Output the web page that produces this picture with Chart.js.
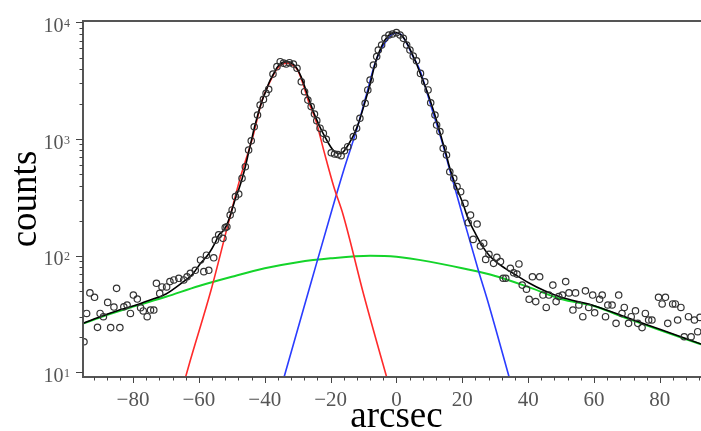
<!DOCTYPE html>
<html>
<head>
<meta charset="utf-8">
<script src="https://cdn.jsdelivr.net/npm/chart.js@4.4.1/dist/chart.umd.min.js"></script>
<style>
  html, body { margin: 0; padding: 0; background: #fff; }
  canvas { display: block; }
</style>
</head>
<body>
<canvas id="chart" width="701" height="431"></canvas>
<script>
// measured profile (arcsec / counts)
const dataX = [-94.9,-94.1,-93.1,-91.7,-90.8,-90.0,-89.0,-87.7,-86.8,-85.8,-85.0,-84.0,-82.8,-81.8,-80.8,-79.9,-78.7,-77.7,-76.9,-75.7,
  -74.7,-73.7,-72.9,-71.9,-71.2,-69.8,-68.8,-67.6,-66.1,-64.6,-63.6,-62.6,-61.1,-59.5,-58.5,-57.7,-57.0,-55.5,-55.0,-54.0,
  -52.7,-52.0,-51.5,-50.5,-49.9,-48.9,-47.9,-46.9,-45.9,-44.9,-44.1,-43.2,-42.2,-41.4,-40.4,-39.6,-38.8,-37.5,-36.3,-35.3,
  -34.3,-33.5,-32.5,-31.3,-30.2,-28.9,-27.9,-26.9,-25.9,-24.9,-24.2,-23.2,-22.2,-21.3,-19.8,-18.8,-17.8,-16.8,-15.8,-14.8,
  -13.1,-12.1,-11.1,-9.5,-8.7,-8.0,-7.0,-6.0,-5.5,-4.5,-3.5,-2.3,-1.2,0.0,1.1,2.1,3.1,4.1,5.1,6.1,
  7.3,8.6,9.6,10.4,11.7,12.2,13.2,14.2,15.2,16.2,17.4,18.4,19.5,20.8,21.8,22.5,23.3,24.5,25.5,26.5,
  27.1,28.1,29.5,30.5,31.6,32.4,33.2,34.6,35.6,36.6,37.2,38.2,39.5,40.3,41.3,42.3,43.5,44.5,45.5,46.3,
  47.5,48.5,49.3,50.4,51.4,52.4,53.6,54.4,55.4,56.6,57.4,58.4,59.6,60.2,61.7,62.5,63.5,64.2,65.5,66.7,
  67.5,68.5,69.2,70.5,71.3,72.6,73.3,74.6,75.6,76.6,77.6,79.6,80.7,81.7,82.4,83.9,84.7,85.4,86.4,87.4,
  88.7,89.5,90.5,91.5,92.2];
const dataCounts = [18.3,32,48,44,24.3,32,30,39.8,24.2,36.3,52.5,24.2,36.5,37.8,32,46,42.5,35.8,33.6,30,
  34.2,34.2,58,47.5,54,54,60,62,64,62,66,70.6,75,92,73,101,75,96,136,151,
  141,174,177,223,247,321,338,461,580,806,968,1276,1610,1960,2190,2470,2670,3610,4180,4610,
  4480,4400,4520,4400,4050,3100,2550,2160,1900,1640,1440,1240,1120,996,764,745,737,720,795,861,
  1050,1240,1510,2030,2640,3210,4320,5100,5810,6410,7310,7810,7970,8180,7810,7310,6410,5810,5160,4700,
  3660,3100,2640,2050,1610,1320,1160,834,731,525,461,391,354,281,192,223,138,187,121,128,
  93,103,86,97,89,64,64,78,71.4,69.6,85,56,51.6,42.3,66,40.4,66,46,36,46,
  56,40.4,44.6,46,60,48,34.2,48,37.8,30,50,36,46,32.4,42.3,46,30,37.8,37.8,26.3,
  46,32,36,26.3,30,33.7,26.3,24.2,32,28.1,28.1,44,38.6,44,26.3,38.6,38.6,28.1,36,20.2,
  30,20.2,28.1,22.3,29.6];

// total fit (black)
const fitX = [-96,-90,-85,-80,-75,-70,-65,-62,-59.5,-57,-55,-54,-52.5,-51.5,-50.5,-49.9,-48.9,-47.9,-46.9,-45.9,
  -44.9,-44.1,-43.2,-42.2,-41.4,-40.4,-39.6,-38.8,-37.5,-36.3,-35.3,-34,-33,-32,-31,-30,-29,-28,-27,-26,
  -25,-24,-23,-22,-21,-20,-19,-18,-17,-16,-15,-14,-13,-12,-11,-10,-9,-8,-7,-6,
  -5,-4,-3,-2,-1,0,1,2,3,4,5,6,7,8,9,10,11,12,13,14,
  15,16,17,18,19,20,22,24,26,28,30,33,36,40,45,50,55,60,70,80,93];
const fitCounts = [25.8,30,33.6,37,41.5,47,59,69,86,104,130,150,165,185,220,250,310,370,455,580,
  770,960,1240,1580,1900,2300,2600,3000,3550,4100,4420,4580,4600,4520,4300,3950,3450,2900,2380,1980,
  1660,1420,1230,1080,960,860,790,755,750,785,860,960,1080,1260,1520,1880,2350,2950,3900,4900,
  5800,6700,7400,7900,8150,8200,8000,7500,6800,6000,5200,4500,3800,3200,2700,2250,1850,1500,1200,950,
  760,590,480,400,340,290,200,155,122,102,90,78,69,59,50,44,40.5,37.3,29.5,23.4,17.3];

// left component (red)
const redX = [-65,-62.6,-56.3,-51.5,-47.4,-43.9,-40.9,-38.3,-36.3,-34.6,-33,-31.5,-30,-28.5,-26.7,-24.5,-22,-19,-16.2,-10,-3,-2];
const redCounts = [7.3,12.7,50.8,170,470,980,2100,3150,4000,4400,4480,4300,3900,3050,2100,1450,785,389,225,47,9.16,7.3];

// right component (blue)
const blueX = [-35,-34.1,-26,-19.6,-15.6,-12.1,-9,-6.5,-4.5,-3,-1.5,0,1.5,3.1,5,7.1,10.7,13.7,16.2,20.2,25,27.5,34.2,35];
const blueCounts = [7.4,9.16,58,247,590,1200,2470,4470,6000,7000,7850,8130,7850,6640,5130,3920,1840,982,543,216,73,43,9.16,7.6];

// broad component (green)
const greenX = [-96,-95,-88,-80,-70,-60,-50,-40,-30,-20,-8,0,10,20,30,40,50,60,70,80,92,93];
const greenCounts = [25.8,26.3,31,36.6,44.5,55,66,78,88,95,100,98,89,78,67,54,42.5,37,29,23,17.6,17.2];

const xTicks = [-80, -60, -40, -20, 0, 20, 40, 60, 80];
const yDecades = [1, 2, 3, 4];

function toPoints(xs, ys) {
  return xs.map((x, i) => ({ x: x, y: ys[i] }));
}

function lineSet(label, xs, ys, color, width, order) {
  return {
    label: label,
    data: toPoints(xs, ys),
    showLine: true,
    borderColor: color,
    borderWidth: width,
    pointRadius: 0,
    cubicInterpolationMode: 'monotone',
    order: order
  };
}

const serif = '"Liberation Serif", "DejaVu Serif", serif';

// frame, tick marks, power-of-ten labels and the x title
const axisFrame = {
  id: 'axisFrame',
  afterDraw(chart) {
    const { ctx, chartArea: a, scales: { x, y } } = chart;
    ctx.save();
    ctx.strokeStyle = '#555';
    ctx.lineWidth = 2;
    ctx.beginPath();
    ctx.moveTo(a.right + 2, a.top);
    ctx.lineTo(a.left, a.top);
    ctx.lineTo(a.left, a.bottom);
    ctx.lineTo(a.right + 2, a.bottom);
    ctx.stroke();

    ctx.lineWidth = 1;
    ctx.strokeStyle = '#444';
    ctx.beginPath();
    for (let v = -92; v <= 92; v += 4) {
      const px = Math.round(x.getPixelForValue(v)) + 0.5;
      const len = v % 20 === 0 ? 6 : 3.5;
      ctx.moveTo(px, a.bottom);
      ctx.lineTo(px, a.bottom + len);
    }
    for (let e = 0; e <= 4; e++) {
      for (let m = 1; m <= 9; m++) {
        const val = m * Math.pow(10, e);
        if (val < y.min || val > y.max) continue;
        const py = Math.round(y.getPixelForValue(val)) + 0.5;
        const len = m === 1 ? 7 : 3.5;
        ctx.moveTo(a.left, py);
        ctx.lineTo(a.left - len, py);
      }
    }
    ctx.stroke();

    ctx.fillStyle = '#555';
    ctx.textBaseline = 'alphabetic';
    yDecades.forEach(e => {
      const py = y.getPixelForValue(Math.pow(10, e));
      ctx.font = '12px ' + serif;
      ctx.textAlign = 'left';
      ctx.fillText(String(e), 64, py + 4.5);
      ctx.font = '20px ' + serif;
      ctx.textAlign = 'right';
      ctx.fillText('10', 63.5, py + 9.5);
    });

    ctx.fillStyle = '#000';
    ctx.font = '37px ' + serif;
    ctx.textAlign = 'center';
    ctx.fillText('arcsec', x.getPixelForValue(0), 427);
    ctx.restore();
  }
};

const chart = new Chart(document.getElementById('chart'), {
  type: 'scatter',
  data: {
    datasets: [
      {
        label: 'data',
        data: toPoints(dataX, dataCounts),
        showLine: false,
        pointRadius: 3.2,
        pointBorderWidth: 1.2,
        pointBorderColor: '#333',
        pointBackgroundColor: 'rgba(0,0,0,0)',
        order: 0
      },
      lineSet('fit', fitX, fitCounts, '#000', 1.6, 1),
      lineSet('left', redX, redCounts, '#ff2a2a', 1.6, 2),
      lineSet('right', blueX, blueCounts, '#2a3cff', 1.6, 3),
      lineSet('broad', greenX, greenCounts, '#14d42a', 2, 4)
    ]
  },
  options: {
    responsive: false,
    animation: false,
    layout: { autoPadding: false, padding: { top: 21, right: 0, bottom: 0, left: 0 } },
    plugins: { legend: { display: false }, tooltip: { enabled: false } },
    scales: {
      x: {
        type: 'linear',
        min: -95.2,
        max: 92.5,
        afterFit: s => { s.height = 54; s.paddingLeft = 0; s.paddingRight = 0; },
        afterBuildTicks: s => { s.ticks = xTicks.map(v => ({ value: v })); },
        grid: { display: false, drawTicks: false },
        border: { display: false },
        ticks: {
          autoSkip: false,
          maxRotation: 0,
          padding: 11,
          color: '#555',
          font: { family: serif, size: 21 },
          callback: v => v < 0 ? '\u2212' + Math.abs(v) : String(v)
        }
      },
      y: {
        type: 'logarithmic',
        min: 9.12,
        max: 10300,
        afterFit: s => { s.width = 83; s.paddingTop = 0; s.paddingBottom = 0; },
        grid: { display: false, drawTicks: false },
        border: { display: false },
        ticks: { display: false },
        title: {
          display: true,
          text: 'counts',
          color: '#000',
          font: { family: serif, size: 37, lineHeight: 1.2 },
          padding: { top: 4, bottom: 0 }
        }
      }
    }
  },
  plugins: [axisFrame]
});
</script>
</body>
</html>
